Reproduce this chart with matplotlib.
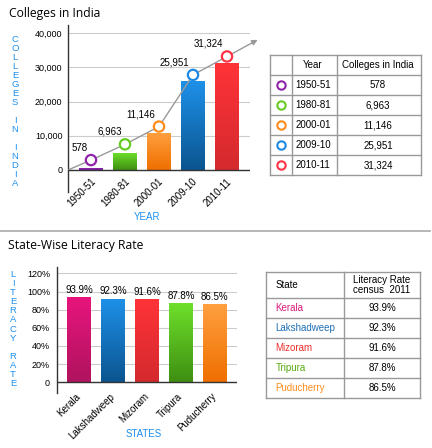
import numpy as np
import matplotlib.pyplot as plt
from matplotlib.colors import LinearSegmentedColormap
from matplotlib.ticker import FuncFormatter
from matplotlib.transforms import ScaledTranslation

# ---- data -------------------------------------------------------------
years = ['1950-51', '1980-81', '2000-01', '2009-10', '2010-11']
colleges = [578, 6963, 11146, 25951, 31324]
college_bars = [600, 5000, 10900, 26000, 31300]    # bar heights as drawn
trend_pts = [2900, 7500, 12700, 27800, 33200]      # circles on the trend line

states = ['Kerala', 'Lakshadweep', 'Mizoram', 'Tripura', 'Puducherry']
literacy = [93.9, 92.3, 91.6, 87.8, 86.5]

# ---- styles -----------------------------------------------------------
col_top = ['#9c27b0', '#6ee02a', '#ffa040', '#1e90e8', '#ff3338']
col_bot = ['#7a1fa2', '#3f8f12', '#ef6f00', '#0b5590', '#d42a2e']
mark_col = ['#8e24aa', '#66cc22', '#ff8c1a', '#1e88e5', '#ff3344']

st_top = ['#e8157d', '#1e90e8', '#ff3338', '#6ee02a', '#ffa040']
st_bot = ['#b0135f', '#0b5590', '#d42a2e', '#3f8f12', '#ef6f00']
st_text = ['#d81b7a', '#1f6fb5', '#ee2c2c', '#55aa11', '#ff8c1a']

blue = '#1e90ee'
grid_c = '#cccccc'
line_c = '#999999'
sans = ['Liberation Sans', 'DejaVu Sans']
title_font = ['Open Sans', 'DejaVu Sans']

W, H = 432, 448
fig = plt.figure(figsize=(W / 100, H / 100), dpi=100)


def rect(x0, y0, x1, y1):
    return [x0 / W, 1 - y1 / H, (x1 - x0) / W, (y1 - y0) / H]


def grad_bar(ax, x, h, w, c_top, c_bot):
    b = ax.bar(x, h, w, color='none', zorder=3)[0]
    cmap = LinearSegmentedColormap.from_list('g', [c_bot, c_top])
    im = ax.imshow(np.linspace(0, 1, 64).reshape(-1, 1), cmap=cmap, origin='lower',
                   extent=[x - w / 2, x + w / 2, 0, h], aspect='auto', zorder=3)
    im.set_clip_path(b)


def style_axes(ax):
    ax.set_facecolor('none')
    for s in ['top', 'right', 'bottom']:
        ax.spines[s].set_visible(False)
    ax.spines['left'].set_color('#333333')
    ax.spines['left'].set_linewidth(1)
    ax.axhline(0, color='#333333', lw=1, zorder=4)
    ax.tick_params(length=0, labelsize=6.5)
    for t in ax.get_yticklabels() + ax.get_xticklabels():
        t.set_family(sans)


# ---- overlay (titles, tables, separator) -------------------------------
ov = fig.add_axes([0, 0, 1, 1], zorder=0)
ov.set_xlim(0, W)
ov.set_ylim(H, 0)
ov.axis('off')

ov.text(9, 13, 'Colleges in India', fontsize=8.7, family=title_font, va='center')
ov.text(8, 245, 'State-Wise Literacy Rate', fontsize=8.7, family=title_font, va='center')
ov.plot([0, 430], [231.5, 231.5], color='#aaaaaa', lw=1.2)

ov.text(15, 111.5, '\n'.join('COLLEGES IN INDIA'), color=blue,
        fontsize=6.8, family=sans, ha='center', va='center', linespacing=1.0)
ov.text(13, 329, '\n'.join('LITERACY RATE'), color=blue,
        fontsize=6.8, family=sans, ha='center', va='center', linespacing=1.02)
ov.text(147, 217, 'YEAR', color=blue, fontsize=7, family=sans, ha='center', va='center')
ov.text(144, 434, 'STATES', color=blue, fontsize=7, family=sans, ha='center', va='center')

# colleges table
tx = [269.5, 291.5, 336.5, 420.5]
ty = [55 + 20 * i for i in range(len(years) + 2)]
for x in tx:
    ov.plot([x, x], [ty[0], ty[-1]], color=line_c, lw=1)
for y in ty:
    ov.plot([tx[0], tx[-1]], [y, y], color=line_c, lw=1)
ov.text(313, 65, 'Year', fontsize=7, family=sans, ha='center', va='center')
ov.text(378, 65, 'Colleges in India', fontsize=7, family=sans, ha='center', va='center')
for i, (yr, v) in enumerate(zip(years, colleges)):
    yc = 85 + 20 * i
    ov.scatter([280.5], [yc], s=36, facecolor='white', edgecolor=mark_col[i], lw=1.5, zorder=5)
    ov.text(313, yc, yr, fontsize=7, family=sans, ha='center', va='center')
    ov.text(378, yc, f'{v:,}', fontsize=7, family=sans, ha='center', va='center')

# literacy table
lx = [266, 344.3, 420.3]
ly = [272, 298, 318, 338, 358, 378, 398]
for x in lx:
    ov.plot([x, x], [ly[0], ly[-1]], color=line_c, lw=1)
for y in ly:
    ov.plot([lx[0], lx[-1]], [y, y], color=line_c, lw=1)
ov.text(275.5, 285, 'State', fontsize=7, family=sans, ha='left', va='center')
ov.text(382, 285, 'Literacy Rate\ncensus  2011', fontsize=7, family=sans,
        ha='center', va='center', linespacing=1.1)
for i, (s, v) in enumerate(zip(states, literacy)):
    yc = 308 + 20 * i
    ov.text(275.5, yc, s, fontsize=7, family=sans, color=st_text[i], ha='left', va='center')
    ov.text(382, yc, f'{v}%', fontsize=7, family=sans, ha='center', va='center')

# ---- colleges chart -------------------------------------------------
ax1 = fig.add_axes(rect(68, 25, 250, 191.7), zorder=2)
pos = np.arange(len(years))
for i in pos:
    grad_bar(ax1, i, college_bars[i], 0.7, col_top[i], col_bot[i])

# trend line from origin, extended with an arrow past the last point
x0 = -0.676
ax1.plot([x0] + list(pos), [0] + trend_pts, color=line_c, lw=1, zorder=4)
ext = 0.9
x_end = pos[-1] + ext
y_end = trend_pts[-1] + ext * (trend_pts[-1] - trend_pts[-2])
ax1.annotate('', xy=(x_end, y_end), xytext=(pos[-1], trend_pts[-1]),
             arrowprops=dict(arrowstyle='-|>', color=line_c, lw=1, mutation_scale=8,
                             shrinkA=0, shrinkB=0),
             annotation_clip=False, zorder=4)
ax1.scatter(pos, trend_pts, s=55, facecolor='white', edgecolor=mark_col, lw=1.6,
            zorder=6, clip_on=False)
for i, v in enumerate(colleges):
    ax1.annotate(f'{v:,}', (pos[i], trend_pts[i]), xytext=(-2.5, 9),
                 textcoords='offset points', ha='right', va='center',
                 fontsize=7, family=sans, zorder=7)

ax1.set_xlim(x0, 4.676)
ax1.set_ylim(-6350, 42400)
ax1.set_yticks([0, 10000, 20000, 30000, 40000])
ax1.yaxis.set_major_formatter(FuncFormatter(lambda v, p: f'{v:,.0f}'))
ax1.set_xticks(pos)
ax1.set_xticklabels(years, rotation=45, ha='right', va='center', rotation_mode='anchor')
ax1.grid(axis='y', color=grid_c, lw=0.8, zorder=0)
ax1.set_axisbelow(True)
style_axes(ax1)
ax1.tick_params(axis='y', pad=4)
ax1.tick_params(axis='x', pad=-8.5, labelsize=7)
shift = ScaledTranslation(3 / 100, 0, fig.dpi_scale_trans)
for t in ax1.get_xticklabels():
    t.set_transform(t.get_transform() + shift)

# ---- literacy chart -------------------------------------------------
ax2 = fig.add_axes(rect(57, 267, 237, 393.3), zorder=2)
pos2 = np.arange(len(states))
for i in pos2:
    grad_bar(ax2, i, literacy[i], 0.69, st_top[i], st_bot[i])
for i, v in enumerate(literacy):
    ax2.annotate(f'{v}%', (pos2[i], v), xytext=(0, 1.5), textcoords='offset points',
                 ha='center', va='bottom', fontsize=7, family=sans, zorder=7)

ax2.set_xlim(-0.647, 4.65)
ax2.set_ylim(-12.1, 127)
ax2.set_yticks([0, 20, 40, 60, 80, 100, 120])
ax2.yaxis.set_major_formatter(FuncFormatter(lambda v, p: '0' if v == 0 else f'{v:.0f}%'))
ax2.set_xticks(pos2)
ax2.set_xticklabels(states, rotation=45, ha='right', va='center', rotation_mode='anchor')
ax2.grid(axis='y', color=grid_c, lw=0.8, zorder=0)
ax2.set_axisbelow(True)
style_axes(ax2)
ax2.tick_params(axis='y', pad=5)
ax2.tick_params(axis='x', pad=1, labelsize=7)

fig.savefig('out.png', dpi=100)
